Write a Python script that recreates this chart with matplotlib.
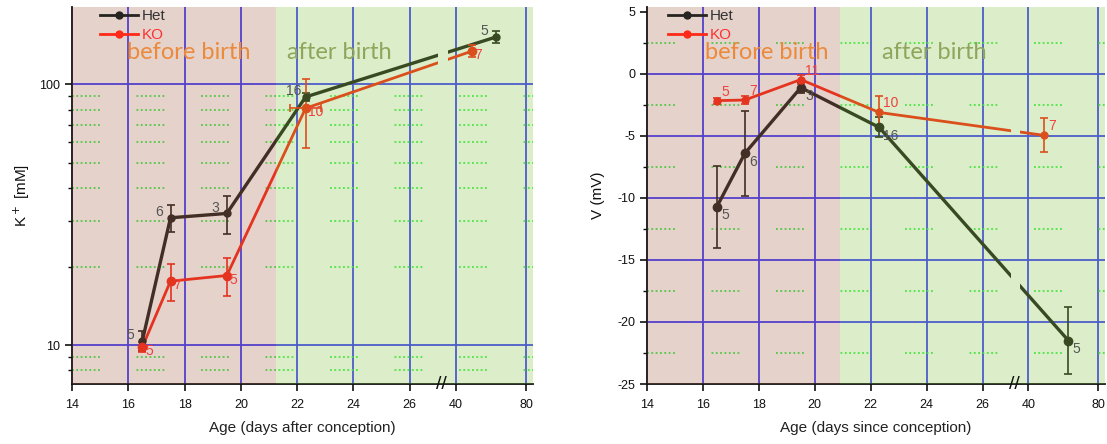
import numpy as np
import matplotlib
matplotlib.use("Agg")
import matplotlib.pyplot as plt
import matplotlib.transforms as mtransforms
from matplotlib.patches import Rectangle
from matplotlib.lines import Line2D
from matplotlib.ticker import FixedLocator, MultipleLocator, LogLocator, NullFormatter, FixedFormatter

# ---- data ----
het_age = [16.5, 17.5, 19.5, 22.3, 63]
ko_age = [16.5, 17.5, 19.5, 22.3, 49]

het_k = [10.4, 30.8, 32.0, 89.5, 152]
het_k_err = [0.9, 3.7, 5.2, 3, 8]
ko_k = [9.85, 17.6, 18.5, 81, 134]
ko_k_err = [0.45, 2.8, 3.1, 24, 7]
ko_k_xerr_p1 = 0.55          # horizontal bar on the first postnatal KO point

het_v = [-10.7, -6.4, -1.1, -4.3, -21.5]
het_v_err = [3.3, 3.4, 0.4, 0.8, 2.7]
ko_v = [-2.15, -2.1, -0.45, -3.1, -4.95]
ko_v_err = [0.25, 0.35, 0.35, 1.35, 1.37]

het_k_n = ["5", "6", "3", "16", "5"]
ko_k_n = ["5", "7", "5", "10", "7"]
het_v_n = ["5", "6", "3", "16", "5"]
ko_v_n = ["5", "7", "11", "10", "7"]

birth_k = 21.25
birth_v = 20.9

x_ticks = [14, 16, 18, 20, 22, 24, 26, 40, 80]
x_tick_labels = ["14", "16", "18", "20", "22", "24", "26", "40", "80"]
v_ticks = [-25, -20, -15, -10, -5, 0, 5]

# ---- broken age axis: linear up to 27, squeezed 27-40, compressed after 40 ----
def fwd(x):
    x = np.asarray(x, dtype=float)
    return np.where(x <= 27, x,
                    np.where(x < 40, 27 + (x - 27) * 0.04923,
                             27.64 + (x - 40) * 0.06225))

def inv(u):
    u = np.asarray(u, dtype=float)
    return np.where(u <= 27, u,
                    np.where(u < 27.64, 27 + (u - 27) / 0.04923,
                             40 + (u - 27.64) / 0.06225))

GAP_LO, GAP_HI = 27.03, 34.0   # where the connecting lines are cut
BREAK_X = 29.5

HET_C = "#262420"
KO_C = "#ff2a18"
GRID_C = "#3f3cff"
PINK_OV = "#974e33"
GREEN_OV = "#73bf2b"
OV_ALPHA = 0.25

plt.rcParams["font.family"] = ["Liberation Sans", "DejaVu Sans"]
plt.rcParams["axes.unicode_minus"] = False

fig = plt.figure(figsize=(11.07, 4.44), dpi=100)
ax1 = fig.add_axes([72 / 1107, 1 - 384 / 444, 461 / 1107, 377 / 444])
ax2 = fig.add_axes([647 / 1107, 1 - 384 / 444, 458 / 1107, 377 / 444])


def broken_line(ax, x, y, color, lw):
    trans = mtransforms.blended_transform_factory(ax.transData, ax.transAxes)
    for lo, hi in [(0, GAP_LO), (GAP_HI, 200)]:
        ln, = ax.plot(x, y, color=color, lw=lw, zorder=2, solid_capstyle="butt")
        ln.set_clip_path(Rectangle((lo, -1), hi - lo, 3, transform=trans))


def label_points(ax, x, y, labels, color, dx, dy, ha):
    for xi, yi, t in zip(x, y, labels):
        ax.annotate(t, (xi, yi), xytext=(dx, dy), textcoords="offset points",
                    ha=ha, va="center", fontsize=10, color=color, zorder=6)


def style_axes(ax, birth, xlabel, ylabel, before_x, after_x):
    ax.set_xscale("function", functions=(fwd, inv))
    ax.set_xlim(14, 84)
    ax.xaxis.set_major_locator(FixedLocator(x_ticks))
    ax.xaxis.set_major_formatter(FixedFormatter(x_tick_labels))
    ax.xaxis.set_minor_locator(FixedLocator([]))
    for s in ["top", "right"]:
        ax.spines[s].set_visible(False)
    for s in ["left", "bottom"]:
        ax.spines[s].set_linewidth(1.3)
        ax.spines[s].set_color("#111111")
    ax.tick_params(which="major", direction="out", length=5, width=1.2,
                   labelsize=9, colors="#111111")
    ax.tick_params(axis="x", which="major", pad=6)
    ax.tick_params(which="minor", direction="out", length=3, width=1.0, colors="#111111")
    ax.set_axisbelow(True)
    ax.grid(which="major", axis="x", color=GRID_C, lw=1.3)
    ax.grid(which="minor", axis="y", color="#30f040", lw=1.2,
            linestyle=(0, (1.1, 1.5) * 6 + (1.1, 22)))
    ax.axvspan(14, birth, color=PINK_OV, alpha=OV_ALPHA, lw=0, zorder=3)
    ax.axvspan(birth, 84, color=GREEN_OV, alpha=OV_ALPHA, lw=0, zorder=3)
    tr = mtransforms.blended_transform_factory(ax.transData, ax.transAxes)
    ax.text(before_x, 0.878, "before birth", transform=tr, family="Lato",
            fontsize=17, color="#ec8a3c", ha="left", va="center", zorder=6)
    ax.text(after_x, 0.878, "after birth", transform=tr, family="Lato",
            fontsize=17, color="#8fa55c", ha="left", va="center", zorder=6)
    ax.text(BREAK_X, 0, "//", transform=tr, fontsize=14, ha="center", va="center",
            color="#111111", zorder=7, clip_on=False)
    ax.set_xlabel(xlabel, fontsize=11, labelpad=7, color="#222222")
    ax.set_ylabel(ylabel, fontsize=11, color="#111111")


def legend(ax, x0):
    handles = [Line2D([], [], color=HET_C, lw=2, marker="o", ms=5),
               Line2D([], [], color=KO_C, lw=2, marker="o", ms=5)]
    leg = ax.legend(handles, ["Het", "KO"], loc="upper left",
                    bbox_to_anchor=(x0, 0.995), frameon=False, fontsize=11,
                    handlelength=2.5, handletextpad=0.2, labelspacing=0.35,
                    borderaxespad=0, borderpad=0)
    leg.set_zorder(6)
    for t, c in zip(leg.get_texts(), ["#333333", "#ff3030"]):
        t.set_color(c)


# ---- left: K+ ----
style_axes(ax1, birth_k, "Age (days after conception)", "K$^+$ [mM]", 15.95, 21.64)
ax1.set_yscale("log")
ax1.set_ylim(7.1, 198)
ax1.yaxis.set_major_locator(FixedLocator([10, 100]))
ax1.yaxis.set_major_formatter(FixedFormatter(["10", "100"]))
ax1.yaxis.set_minor_locator(LogLocator(base=10, subs=np.arange(2, 10)))
ax1.yaxis.set_minor_formatter(NullFormatter())
ax1.yaxis.grid(True, which="major", color=GRID_C, lw=1.3)
ax1.yaxis.labelpad = 5

broken_line(ax1, het_age, het_k, HET_C, 2.4)
broken_line(ax1, ko_age, ko_k, KO_C, 2.0)
ax1.errorbar(het_age, het_k, yerr=het_k_err, fmt="o", color=HET_C, ms=5,
             elinewidth=1.2, capsize=3, capthick=1.2, zorder=2)
ax1.errorbar(ko_age, ko_k, yerr=ko_k_err, fmt="o", color=KO_C, ms=6,
             elinewidth=1.2, capsize=3, capthick=1.2, zorder=2)
ax1.errorbar(ko_age[3], ko_k[3], xerr=ko_k_xerr_p1, fmt="none", ecolor=KO_C,
             elinewidth=1.2, capsize=3, capthick=1.2, zorder=2)
label_points(ax1, het_age, het_k, het_k_n, "#555555", -8.5, 4, "center")
label_points(ax1, ko_age, ko_k, ko_k_n, "#f04040", 2, -3, "left")
legend(ax1, 0.061)

# ---- right: V ----
style_axes(ax2, birth_v, "Age (days since conception)", "V (mV)", 16.07, 22.4)
ax2.set_ylim(-25, 5.4)
ax2.yaxis.set_major_locator(FixedLocator(v_ticks))
ax2.yaxis.set_minor_locator(MultipleLocator(2.5))
ax2.yaxis.labelpad = 9
# blue grid only on the inner ticks (none along the top tick)
for yv in v_ticks[1:-1]:
    ax2.axhline(yv, color=GRID_C, lw=1.3, zorder=0.5)

broken_line(ax2, het_age, het_v, HET_C, 2.4)
broken_line(ax2, ko_age, ko_v, KO_C, 2.0)
ax2.errorbar(het_age, het_v, yerr=het_v_err, fmt="o", color=HET_C, ms=6,
             elinewidth=1.2, capsize=3, capthick=1.2, zorder=2)
ax2.errorbar(ko_age, ko_v, yerr=ko_v_err, fmt="o", color=KO_C, ms=5,
             elinewidth=1.2, capsize=3, capthick=1.2, zorder=2)
label_points(ax2, het_age, het_v, het_v_n, "#555555", 3, -6, "left")
label_points(ax2, ko_age, ko_v, ko_v_n, "#f04040", 3, 6.5, "left")
legend(ax2, 0.046)

fig.savefig("out.png", dpi=100)
